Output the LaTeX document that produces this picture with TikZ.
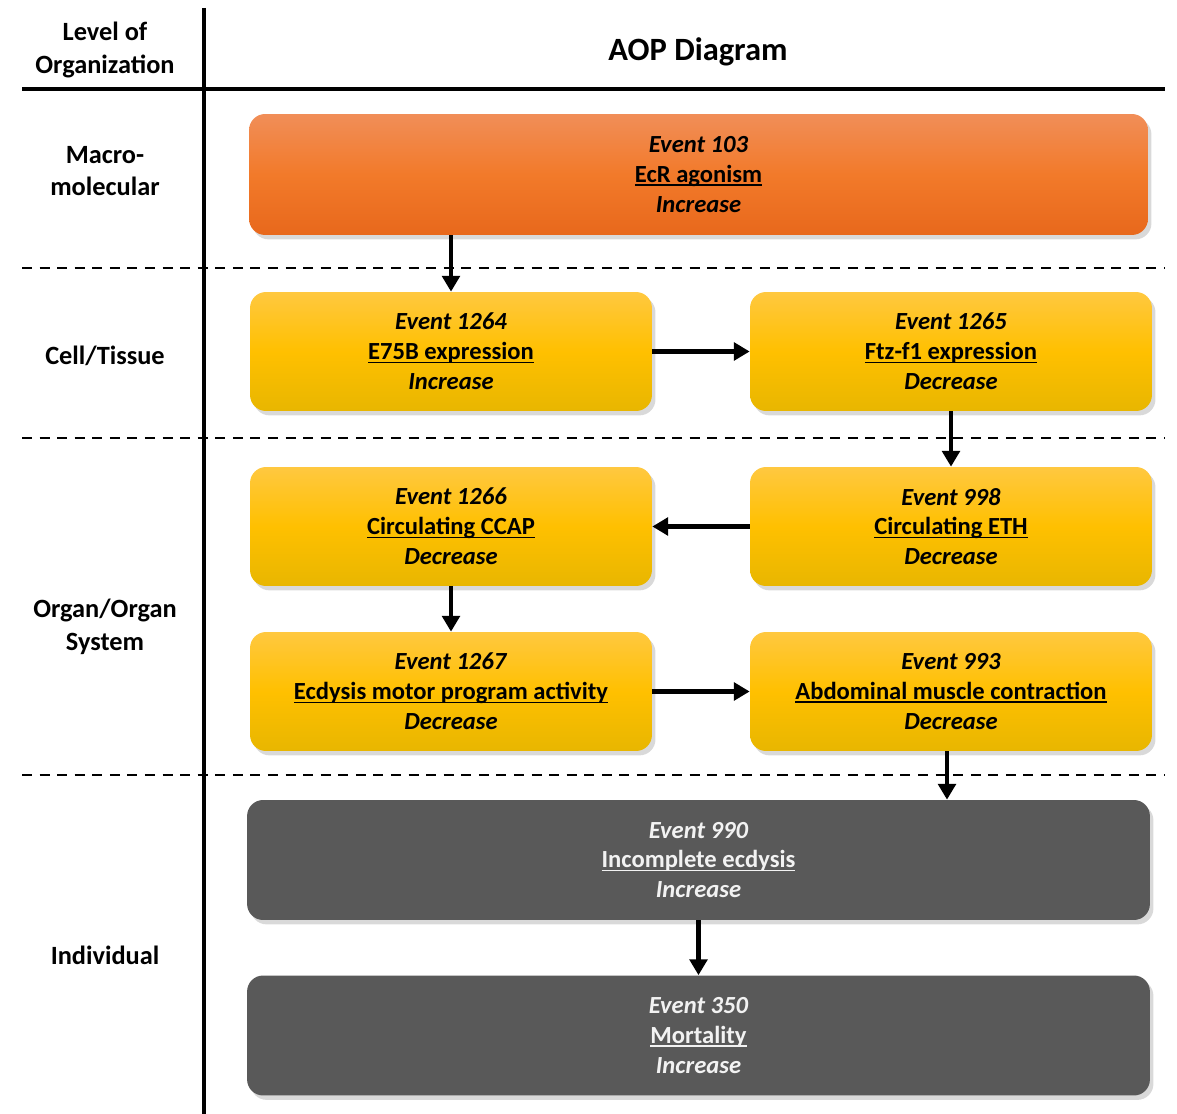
\documentclass[tikz,border=0pt]{standalone}
\usepackage{fontspec}
\setmainfont{Carlito}
\usetikzlibrary{arrows.meta,shadows}
\definecolor{orTop}{RGB}{241,142,88}
\definecolor{orMid}{RGB}{242,122,42}
\definecolor{orBot}{RGB}{232,104,28}
\definecolor{yeTop}{RGB}{255,200,64}
\definecolor{yeMid}{RGB}{255,192,0}
\definecolor{yeBot}{RGB}{232,182,0}
\definecolor{grBox}{RGB}{89,89,89}
\tikzset{
  evbox/.style={rounded corners=0.32cm, align=center, font=\bfseries\fontsize{14}{17}\selectfont,
    drop shadow={opacity=0.3, shadow xshift=2pt, shadow yshift=-2.5pt}, inner sep=0pt},
  orbox/.style={evbox, top color=orTop, bottom color=orBot, middle color=orMid,
    minimum width=17.98cm, minimum height=2.42cm},
  yebox/.style={evbox, top color=yeTop, bottom color=yeBot, middle color=yeMid,
    minimum width=8.04cm, minimum height=2.38cm},
  grbox/.style={evbox, fill=grBox, text=white!95!black,
    minimum width=18.06cm, minimum height=2.4cm},
  lvl/.style={align=center, font=\bfseries\fontsize{15}{18.5}\selectfont},
  arr/.style={line width=2.3pt, -{Triangle[length=9pt,width=10pt]}},
  rule/.style={line width=2pt},
  dashrule/.style={line width=1.6pt, dash pattern=on 5.7pt off 4.3pt}
}
\newcommand{\myul}[1]{\setbox0=\hbox{#1}\rlap{\rule[-1.9pt]{\wd0}{0.85pt}}\box0}
\newcommand{\ev}[3]{\textit{#1}\\\myul{#2}\\\textit{#3}}
\begin{document}
\begin{tikzpicture}[x=0.02cm,y=-0.02cm]
\useasboundingbox (0,0) rectangle (1177,1114);
% grid
\coordinate (vt) at (204,8);
\coordinate (vb) at (204,1114);
\draw[rule] (vt) -- (vb);
\coordinate (hl) at (22,89);
\coordinate (hr) at (1165,89);
\draw[rule] (hl) -- (hr);
\coordinate (d1l) at (22,268); \coordinate (d1r) at (1165,268);
\coordinate (d2l) at (22,438); \coordinate (d2r) at (1165,438);
\coordinate (d3l) at (22,775); \coordinate (d3r) at (1165,775);
\draw[dashrule] (d1l) -- (d1r);
\draw[dashrule] (d2l) -- (d2r);
\draw[dashrule] (d3l) -- (d3r);
% headers
\node[lvl] (hlevel) at (105,50) {Level of\\Organization};
\node[font=\bfseries\fontsize{18.5}{22}\selectfont] (haop) at (698,52) {AOP Diagram};
\node[lvl] (lmacro) at (105,171) {Macro-\\molecular};
\node[lvl] (lcell) at (105,356) {Cell/Tissue};
\node[lvl] (lorgan) at (105,627) {Organ/Organ\\System};
\node[lvl] (lind) at (105,955) {Individual};
% boxes
\node[orbox] (e103) at (698.5,174.5) {\ev{Event 103}{EcR agonism}{Increase}};
\node[yebox] (e1264) at (451,351.5) {\ev{Event 1264}{E75B expression}{Increase}};
\node[yebox] (e1265) at (951,351.5) {\ev{Event 1265}{Ftz-f1 expression}{Decrease}};
\node[yebox] (e1266) at (451,526.5) {\ev{Event 1266}{Circulating CCAP}{Decrease}};
\node[yebox] (e998) at (951,526.5) {\ev{Event 998}{Circulating ETH}{Decrease}};
\node[yebox] (e1267) at (451,691.5) {\ev{Event 1267}{Ecdysis motor program activity}{Decrease}};
\node[yebox] (e993) at (951,691.5) {\ev{Event 993}{Abdominal muscle contraction}{Decrease}};
\node[grbox] (e990) at (698.5,860) {\ev{Event 990}{Incomplete ecdysis}{Increase}};
\node[grbox] (e350) at (698.5,1035.5) {\ev{Event 350}{Mortality}{Increase}};
% arrows
\draw[arr] (e1264.north |- e103.south) -- (e1264.north);
\draw[arr] (e1264.east) -- (e1265.west);
\draw[arr] (e1265.south) -- (e998.north);
\draw[arr] (e998.west) -- (e1266.east);
\draw[arr] (e1266.south) -- (e1267.north);
\draw[arr] (e1267.east) -- (e993.west);
\draw[arr] ([xshift=-4*0.02cm]e993.south) -- ([xshift=-4*0.02cm]e993.south |- e990.north);
\draw[arr] (e990.south) -- (e350.north);
\end{tikzpicture}
\end{document}
